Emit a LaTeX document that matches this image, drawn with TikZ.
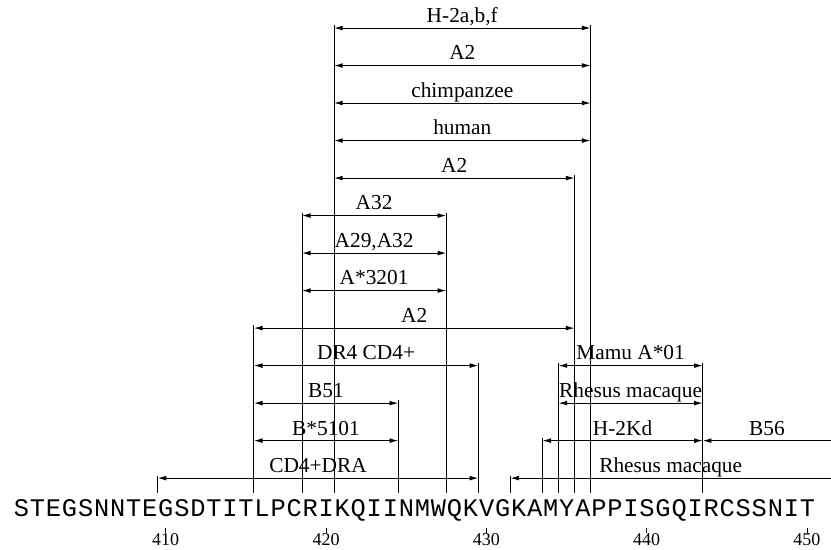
\documentclass[tikz,border=0pt]{standalone}
\usepackage{fontspec}
\setmainfont{Liberation Serif}
\newfontfamily\seqfont[LetterSpace=3.3]{Liberation Mono}
\usetikzlibrary{arrows.meta}

\begin{document}
\begin{tikzpicture}[x=12.02pt,y=28.125pt,line width=.7pt,
  every node/.style={font=\fontsize{16}{18}\selectfont,inner sep=0pt},
  span/.style={{Latex[length=6.5pt,width=3.6pt]}-{Latex[length=6.5pt,width=3.6pt]}},
  open/.style={{Latex[length=6.5pt,width=3.6pt]}-},
  leg/.style={line width=.6pt},
  lbl/.style={anchor=base},
  num/.style={anchor=base,font=\fontsize{13.5}{15}\selectfont}]
\useasboundingbox (-0.337,-0.893) rectangle (51.5,13.747);
% sequence and numbering
\node[anchor=base west,font=\seqfont\fontsize{19}{21}\selectfont] (seq) at (0.5,-0.03) {STEGSNNTEGSDTITLPCRIKQIINMWQKVGKAMYAPPISGQIRCSSNIT};
\coordinate (t410) at (10,-0.34);\node[num] (n410) at (10,-0.8) {410};
\coordinate (t420) at (20,-0.34);\node[num] (n420) at (20,-0.8) {420};
\coordinate (t430) at (30,-0.34);\node[num] (n430) at (30,-0.8) {430};
\coordinate (t440) at (40,-0.34);\node[num] (n440) at (40,-0.8) {440};
\coordinate (t450) at (50,-0.34);\node[num] (n450) at (50,-0.8) {450};
\draw[leg] (t410)--(n410);
\draw[leg] (t420)--(n420);
\draw[leg] (t430)--(n430);
\draw[leg] (t440)--(n440);
\draw[leg] (t450)--(n450);
% extension lines down to the sequence
\coordinate (k409) at (9.5,1.07);  \coordinate (f409) at (9.5,0.6);
\coordinate (k415) at (15.5,5.07); \coordinate (f415) at (15.5,0.6);
\coordinate (k418) at (18.5,8.07); \coordinate (f418) at (18.5,0.6);
\coordinate (k420) at (20.5,13.07);\coordinate (f420) at (20.5,0.6);
\coordinate (k424) at (24.5,3.07); \coordinate (f424) at (24.5,0.6);
\coordinate (k427) at (27.5,8.07); \coordinate (f427) at (27.5,0.6);
\coordinate (k429) at (29.5,4.07); \coordinate (f429) at (29.5,0.6);
\coordinate (k431) at (31.5,1.07); \coordinate (f431) at (31.5,0.6);
\coordinate (k433) at (33.5,2.07); \coordinate (f433) at (33.5,0.6);
\coordinate (k434) at (34.5,4.07); \coordinate (f434) at (34.5,0.6);
\coordinate (k435) at (35.5,9.07); \coordinate (f435) at (35.5,0.6);
\coordinate (k436) at (36.5,13.07);\coordinate (f436) at (36.5,0.6);
\coordinate (k443) at (43.5,4.07); \coordinate (f443) at (43.5,0.6);
\draw[leg](k409)--(f409);
\draw[leg](k415)--(f415);
\draw[leg](k418)--(f418);
\draw[leg](k420)--(f420);
\draw[leg](k424)--(f424);
\draw[leg](k427)--(f427);
\draw[leg](k429)--(f429);
\draw[leg](k431)--(f431);
\draw[leg](k433)--(f433);
\draw[leg](k434)--(f434);
\draw[leg](k435)--(f435);
\draw[leg](k436)--(f436);
\draw[leg](k443)--(f443);
% epitope spans
\coordinate (s1a) at (20.5,13);\coordinate (s1b) at (36.5,13);
\coordinate (s2a) at (20.5,12);\coordinate (s2b) at (36.5,12);
\coordinate (s3a) at (20.5,11);\coordinate (s3b) at (36.5,11);
\coordinate (s4a) at (20.5,10);\coordinate (s4b) at (36.5,10);
\coordinate (s5a) at (20.5,9); \coordinate (s5b) at (35.5,9);
\coordinate (s6a) at (18.5,8); \coordinate (s6b) at (27.5,8);
\coordinate (s7a) at (18.5,7); \coordinate (s7b) at (27.5,7);
\coordinate (s8a) at (18.5,6); \coordinate (s8b) at (27.5,6);
\coordinate (s9a) at (15.5,5); \coordinate (s9b) at (35.5,5);
\coordinate (s10a) at (15.5,4);\coordinate (s10b) at (29.5,4);
\coordinate (s11a) at (34.5,4);\coordinate (s11b) at (43.5,4);
\coordinate (s12a) at (15.5,3);\coordinate (s12b) at (24.5,3);
\coordinate (s13a) at (34.5,3);\coordinate (s13b) at (43.5,3);
\coordinate (s14a) at (15.5,2);\coordinate (s14b) at (24.5,2);
\coordinate (s15a) at (33.5,2);\coordinate (s15b) at (43.5,2);
\coordinate (s16a) at (43.5,2);\coordinate (s16b) at (51.5,2);
\coordinate (s17a) at (9.5,1); \coordinate (s17b) at (29.5,1);
\coordinate (s18a) at (31.5,1);\coordinate (s18b) at (51.5,1);
\draw[span](s1a)--(s1b);
\draw[span](s2a)--(s2b);
\draw[span](s3a)--(s3b);
\draw[span](s4a)--(s4b);
\draw[span](s5a)--(s5b);
\draw[span](s6a)--(s6b);
\draw[span](s7a)--(s7b);
\draw[span](s8a)--(s8b);
\draw[span](s9a)--(s9b);
\draw[span](s10a)--(s10b);
\draw[span](s11a)--(s11b);
\draw[span](s12a)--(s12b);
\draw[span](s13a)--(s13b);
\draw[span](s14a)--(s14b);
\draw[span](s15a)--(s15b);
\draw[open](s16a)--(s16b);
\draw[span](s17a)--(s17b);
\draw[open](s18a)--(s18b);
\node[lbl] (l1) at (28.5,13.15) {H-2a,b,f};
\node[lbl] (l2) at (28.5,12.15) {A2};
\node[lbl] (l3) at (28.5,11.15) {chimpanzee};
\node[lbl] (l4) at (28.5,10.15) {human};
\node[lbl] (l5) at (28,9.15) {A2};
\node[lbl] (l6) at (23,8.15) {A32};
\node[lbl] (l7) at (23,7.15) {A29,A32};
\node[lbl] (l8) at (23,6.15) {A*3201};
\node[lbl] (l9) at (25.5,5.15) {A2};
\node[lbl] (l10) at (22.5,4.15) {DR4 CD4+};
\node[lbl] (l11) at (39,4.15) {Mamu A*01};
\node[lbl] (l12) at (20,3.15) {B51};
\node[lbl] (l13) at (39,3.15) {Rhesus macaque};
\node[lbl] (l14) at (20,2.15) {B*5101};
\node[lbl] (l15) at (38.5,2.15) {H-2Kd};
\node[lbl] (l16) at (47.5,2.15) {B56};
\node[lbl] (l17) at (19.5,1.15) {CD4+DRA};
\node[lbl] (l18) at (41.5,1.15) {Rhesus macaque};
\end{tikzpicture}
\end{document}
